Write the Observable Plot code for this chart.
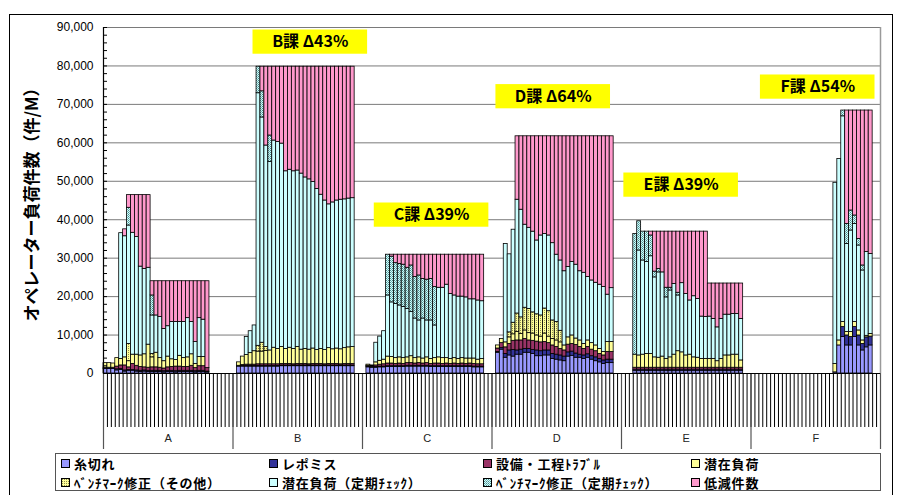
<!DOCTYPE html>
<html><head><meta charset="utf-8">
<script src="https://cdn.jsdelivr.net/npm/d3@7"></script>
<script src="https://cdn.jsdelivr.net/npm/@observablehq/plot@0.6"></script>
<style>
body{margin:0;background:#fff;}
#wrap{position:relative;width:897px;height:495px;overflow:hidden;}
#frame{position:absolute;left:9px;top:14px;width:884px;height:490px;border:1px solid #000;box-sizing:border-box;}
#chart{position:absolute;left:0;top:0;}
#legend{position:absolute;left:55px;top:453px;width:826px;height:38px;border:1px solid #555;box-sizing:border-box;font-family:"Noto Sans CJK JP",sans-serif;font-weight:bold;font-size:13px;letter-spacing:0.8px;}
.item{position:absolute;display:flex;align-items:center;white-space:nowrap;height:19px;}
.sw{width:7px;height:7px;border:1px solid #000;margin-right:4px;display:inline-block;}
.lt{display:block;height:19px;line-height:19px;overflow:visible;}
</style></head><body>
<svg width="0" height="0" style="position:absolute"><defs>
<pattern id="patBmO" width="2" height="2" patternUnits="userSpaceOnUse"><rect width="2" height="2" fill="#FFFF99"/><rect width="1" height="1" fill="#8C8C50"/></pattern>
<pattern id="patBmT" width="2" height="2" patternUnits="userSpaceOnUse"><rect width="2" height="2" fill="#CCFFFF"/><rect width="1" height="1" fill="#4F8A8A"/><rect x="1" y="1" width="1" height="1" fill="#7FB2B2"/></pattern>
</defs></svg>
<div id="wrap"><div id="frame"></div><div id="chart"></div><div id="legend"></div></div>
<script>
// ---- categories ----
const groups = ["A", "B", "C", "D", "E", "F"];
const slotsPerGroup = 33;               // month slots per group on the category axis
const firstSlot = [0, 1, 1, 1, 3, 21];  // first populated slot in each group

const seriesNames = ["糸切れ", "レポミス", "設備・工程ﾄﾗﾌﾞﾙ", "潜在負荷", "ﾍﾞﾝﾁﾏｰｸ修正（その他）", "潜在負荷（定期ﾁｪｯｸ）", "ﾍﾞﾝﾁﾏｰｸ修正（定期ﾁｪｯｸ）", "低減件数"];

// ---- series values (one array per group) ----
const itogire = [
  [1200,1200,1200,800,900,500,600,600,500,400,500,400,400,400,400,300,400,400,300,400,400,400,400,300,400,400,300],
  [1800,1800,1800,1800,1800,1800,1800,1800,1800,1800,1800,1900,1900,1900,1900,1900,1900,1900,1900,1900,1900,1900,1900,1900,1900,1900,1900,1900,1900,1900],
  [1600,1500,1500,1600,1600,1700,1700,1700,1700,1700,1800,1800,1800,1800,1800,1800,1700,1700,1700,1700,1700,1700,1700,1700,1700,1700,1700,1600,1600,1600],
  [5400,6200,4100,4700,4400,4900,4900,5400,5400,5100,4500,4500,4700,4700,3800,3600,3400,3200,4400,4600,4100,4100,3800,4100,3600,3200,2900,2500,2700,2700],
  [600,600,600,600,600,600,600,600,600,600,600,600,600,600,600,600,600,600,600,600,600,600,600,600,600,600,600,600],
  [300,7300,9500,7300,7300,9500,7300,6000,6800,7300]
];
const repomisu = [
  [300,300,300,300,300,300,300,300,300,300,300,300,300,300,300,300,300,300,300,300,300,300,300,300,300,300,200],
  [200,200,200,200,200,200,200,200,200,200,200,200,200,200,200,200,200,200,200,200,200,200,200,200,200,200,200,200,200,200],
  [200,200,200,200,200,200,200,200,200,200,200,200,200,200,200,200,200,200,200,200,200,200,200,200,200,200,200,200,200,200],
  [200,400,1000,1300,1700,1100,1300,1000,1000,1000,1500,1300,1300,1300,1300,1300,1300,1200,1100,1100,1100,800,900,900,900,1000,900,900,900,900],
  [400,400,400,400,400,400,400,400,400,400,400,400,400,400,400,400,400,400,400,400,400,400,400,400,400,400,400,400],
  [0,0,2600,2600,2200,2600,2600,1700,2600,2300]
];
const setsubi = [
  [0,0,0,700,900,1300,700,1600,1200,1000,800,800,900,900,800,700,900,1000,1200,1100,1000,1000,1300,800,1200,1200,900],
  [0,200,300,300,300,400,400,400,400,400,400,400,400,400,300,400,400,400,300,400,400,400,300,400,400,400,300,400,400,400],
  [200,200,400,500,600,700,700,600,700,600,700,700,600,700,600,700,600,700,700,600,700,600,700,600,700,600,700,700,600,600],
  [900,1300,1700,1700,2400,2600,2400,2600,2200,2400,2300,2300,2200,1900,2200,2000,1700,1600,2000,2000,2200,2000,1700,1900,1700,1600,1300,1300,2000,2000],
  [500,500,500,500,500,500,500,500,500,500,500,500,500,500,500,500,500,500,500,500,500,500,500,500,500,500,500,500],
  [0,0,0,0,0,0,0,0,0,0]
];
const senzai = [
  [1200,1200,1100,2200,1700,2100,1600,2400,2900,3000,3400,6000,2600,3800,2500,1900,2800,2000,1700,2800,2300,2500,3000,1100,2400,2400,0],
  [900,2200,2500,3000,3500,3300,3300,3500,3600,4300,4000,4400,3900,4200,4000,4400,3700,3900,3800,4000,3600,3900,3700,4100,3800,4000,3900,4100,4300,4400],
  [300,200,800,1000,1200,1800,1700,1500,1600,1500,1500,1800,1400,1500,1300,1500,1300,1400,1600,1500,1400,1300,1400,1300,1400,1400,1300,1400,1200,1400],
  [800,1100,1300,1700,1700,2200,1700,2200,1900,1900,1600,1500,2200,1700,1700,1700,1700,1300,1900,2200,1700,1700,1300,1700,1700,1500,1300,900,2600,2600],
  [3400,3200,3400,3600,3600,2700,2600,2900,2300,2700,3400,4300,4000,3200,3400,2700,2600,2300,2300,2300,2300,1700,2300,3200,3200,3400,3400,1900],
  [2200,1300,1300,900,1300,1300,1300,900,400,700]
];
const bmSonota = [
  [0,0,0,0,0,0,4500,0,0,0,0,0,900,0,0,0,0,0,0,0,0,0,0,0,0,0,0],
  [0,0,0,0,0,1500,2300,1000,0,0,0,0,0,0,0,0,0,0,0,0,0,0,0,0,0,0,0,0,0,0],
  [0,0,0,0,0,0,0,0,0,0,0,0,0,0,0,0,0,0,0,0,0,0,0,0,0,0,0,0,0,0],
  [0,0,0,1300,3000,4800,4300,5900,6300,5500,5500,5500,6500,6600,4800,4800,3000,0,0,0,0,0,0,0,0,0,0,0,0,0],
  [0,0,0,0,0,0,0,0,0,0,0,0,0,0,0,0,0,0,0,0,0,0,0,0,0,0,0,0],
  [0,0,0,0,0,0,0,0,0,0]
];
const senzaiTeiki = [
  [0,0,0,0,32700,31500,30800,31700,30600,23100,22200,20000,10000,9700,10700,8400,7900,9700,9900,8800,9400,10200,8400,5700,10100,9700,0],
  [0,0,4700,5700,6700,65700,58600,52400,49000,53900,53800,52900,46200,46300,46200,45900,45800,44600,44300,43300,41900,40100,38900,37400,38200,38500,38900,38700,38700,38700],
  [0,0,5100,6300,7400,15900,14200,14100,13500,13300,12600,11500,10300,9600,10400,9600,10000,8500,18100,18300,19100,16900,16300,16200,16000,15900,15400,15400,15400,15000],
  [0,0,25600,20300,24200,29600,28000,21600,21100,21000,19200,20800,19400,19700,20100,17500,18300,19300,18300,19100,19200,18000,18500,16500,16300,16300,16700,16900,12300,14000],
  [0,27300,24500,23900,25400,20800,22200,21900,16000,17400,18400,14500,18000,16000,14100,15900,15300,11000,10900,11000,10400,8800,10400,10600,10600,10600,10600,10800],
  [47100,47200,53500,22900,26400,25500,22100,18200,21800,20800]
];
const bmTeiki = [
  [0,0,0,0,0,0,4600,0,0,0,0,0,5200,0,0,0,0,0,0,0,0,0,0,0,0,0,0],
  [0,0,0,0,0,6900,6800,0,6900,0,0,0,0,0,0,0,0,0,0,0,0,0,0,0,0,0,0,0,0,0],
  [0,0,0,0,0,10600,11900,10600,10800,11000,10700,12100,10800,11700,10300,10600,10800,10000,0,0,0,0,0,0,0,0,0,0,0,0],
  [0,0,0,0,0,0,0,0,0,0,0,0,0,0,0,0,0,0,0,0,0,0,0,0,0,0,0,0,0,0],
  [31400,7600,7500,7900,5400,1500,900,0,2500,700,0,700,0,0,0,0,0,0,0,0,0,0,0,0,0,0,0,0],
  [0,0,1500,5200,5200,2200,1700,1300,0,0]
];
const teigen = [
  [0,0,0,0,0,1800,3300,9800,10900,18600,19200,18900,3700,8900,9300,12400,11700,10600,10600,10600,10600,9600,10600,15800,9600,10000,22600],
  [0,0,0,0,0,0,6400,20500,17900,19200,19600,20000,27200,26800,27200,27000,27800,28800,29300,30000,31800,33300,34800,35800,35300,34800,34600,34500,34300,34200],
  [0,0,0,0,0,0,500,2200,2400,2600,3400,2800,5800,5400,6300,6500,6300,8400,8600,8600,7800,10200,10600,10900,10900,11100,11600,11600,11900,12100],
  [0,0,0,0,0,16500,19100,23000,23800,24800,27100,25800,25400,25800,27800,30800,32300,35100,34000,32700,33400,35100,35500,36600,37500,38100,38600,39200,41200,39500],
  [0,0,0,0,1000,10400,9700,10600,14600,14600,13600,15900,13400,16200,17900,16800,17500,22100,22200,8600,9200,11400,9200,8100,8100,7900,7900,9200],
  [0,0,0,29500,26000,27300,33400,40300,36800,37300]
];

// ---- annotations ----
const annoLabels = ["B課 Δ43%", "C課 Δ39%", "D課 Δ64%", "E課 Δ39%", "F課 Δ54%"];
const annoSlot = [52.7, 83.6, 114.6, 147.2, 182.0];
const annoValue = [86200, 41200, 72000, 49000, 74500];

// ---- axis ticks ----
const yMajor = [0,10000,20000,30000,40000,50000,60000,70000,80000,90000];
const yMinor = [0,2000,4000,6000,8000,10000,12000,14000,16000,18000,20000,22000,24000,26000,28000,30000,32000,34000,36000,38000,40000,42000,44000,46000,48000,50000,52000,54000,56000,58000,60000,62000,64000,66000,68000,70000,72000,74000,76000,78000,80000,82000,84000,86000,88000,90000];
const yTitle = "オペレーター負荷件数（件/M）";

const colors = ["#9999FF", "#333399", "#993366", "#FFFF99", "url(#patBmO)", "#CCFFFF", "url(#patBmT)", "#FF99CC"];
const seriesData = [itogire, repomisu, setsubi, senzai, bmSonota, senzaiTeiki, bmTeiki, teigen];

const rows = [];
groups.forEach((g, gi) => {
  const n = seriesData[0][gi].length;
  for (let j = 0; j < n; j++) {
    const slot = gi * slotsPerGroup + firstSlot[gi] + j;
    seriesNames.forEach((s, si) => {
      const v = seriesData[si][gi][j];
      if (v > 0) rows.push({slot, group: g, series: s, value: v});
    });
  }
});
const nSlots = groups.length * slotsPerGroup;
const slotTicks = d3.range(0, nSlots + 1);
const groupEdges = d3.range(0, groups.length + 1).map(i => i * slotsPerGroup);
const annos = annoLabels.map((label, i) => ({label, x: annoSlot[i], y: annoValue[i]}));

const chart = Plot.plot({
  width: 897, height: 452,
  marginLeft: 103, marginRight: 17, marginTop: 27, marginBottom: 79,
  x: {domain: [0, nSlots]},
  y: {domain: [0, 90000]},
  color: {domain: seriesNames, range: colors},
  style: {fontFamily: "'Liberation Sans', Arial, sans-serif", fontSize: "12px", color: "#000", background: "transparent", overflow: "visible"},
  marks: [
    Plot.ruleY(yMajor.slice(1), {stroke: "#7a7a7a", strokeWidth: 1, strokeOpacity: 1}),
    Plot.ruleX([nSlots], {stroke: "#9a9a9a", strokeWidth: 1.5}),
    Plot.rectY(rows, {x1: "slot", x2: d => d.slot + 1, y: "value", fill: "series", stroke: "#000", strokeWidth: 0.8}),
    Plot.rect(annos, {x1: d => d.x - 14.6, x2: d => d.x + 14.6, y1: d => d.y - 3150, y2: d => d.y + 3150, fill: "#FFFF00"}),
    Plot.text(annos, {x: "x", y: "y", text: "label", fontSize: 16, fontWeight: "bold", fontFamily: "'Noto Sans CJK JP', sans-serif", fill: "#000"}),
    Plot.ruleY(yMinor, {insetRight: 773, stroke: "#000"}),
    Plot.axisY(yMajor, {tickSize: 0, tickPadding: 10, tickFormat: d3.format(","), fontSize: 12, label: null}),
    Plot.axisX(slotTicks, {tickSize: 54, tickFormat: () => "", stroke: "#000", strokeWidth: 1, label: null}),
    Plot.axisX(groupEdges, {tickSize: 76, tickFormat: () => "", stroke: "#555", strokeWidth: 1.2, label: null}),
    Plot.text(groups, {x: (d, i) => i * slotsPerGroup + slotsPerGroup / 2, frameAnchor: "bottom", dy: 68, text: d => d, fontSize: 11, fill: "#222"}),
    Plot.text([yTitle], {frameAnchor: "left", textAnchor: "middle", dx: -71, rotate: -90, text: d => d, fontSize: 17, fontWeight: "bold", fontFamily: "'Noto Sans CJK JP', sans-serif", fill: "#000"}),
    Plot.ruleY([0], {stroke: "#000", strokeWidth: 1.2}),
    Plot.ruleX([0], {stroke: "#000", strokeWidth: 1.2})
  ]
});
document.getElementById("chart").appendChild(chart);

// ---- legend ----
const legend = document.getElementById("legend");
const colLeft = [5, 213, 427, 635];
seriesNames.forEach((s, i) => {
  const item = document.createElement("div");
  item.className = "item";
  item.style.left = colLeft[i % 4] + "px";
  item.style.top = (i < 4 ? 0 : 19) + "px";
  const sw = document.createElement("span");
  sw.className = "sw";
  sw.innerHTML = '<svg width="7" height="7" style="display:block"><rect width="7" height="7" fill="' + colors[i] + '"/></svg>';
  const t = document.createElement("span");
  t.className = "lt";
  t.textContent = s;
  item.appendChild(sw); item.appendChild(t);
  legend.appendChild(item);
});
</script></body></html>
